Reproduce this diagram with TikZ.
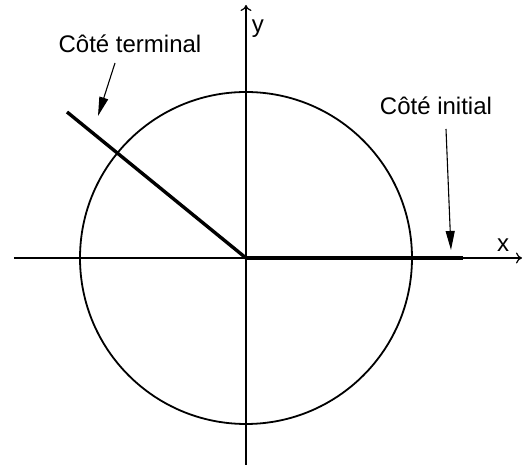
\documentclass[tikz,border=0pt]{standalone}
\usepackage{fontspec}
\setmainfont{Liberation Sans}
\usetikzlibrary{arrows.meta}

\begin{document}
\begin{tikzpicture}[
  x=1pt, y=1pt,
  every node/.style={inner sep=1pt, font=\fontsize{24}{28}\selectfont},
  axis/.style={draw, line width=1.2pt, -{To[length=6pt,width=11pt]}},
  side/.style={draw, line width=3.4pt},
  circ/.style={draw, line width=1.8pt},
  pointer/.style={draw, line width=1.1pt, -{Triangle[length=19pt,width=9pt]}}]

  \useasboundingbox (-246,-207) rectangle (282,258);

  % axes and circle
  \coordinate (o)  at (0,0);
  \coordinate (xl) at (-232,0);
  \coordinate (xr) at (276,0);
  \coordinate (yb) at (0,-207);
  \coordinate (yt) at (0,253);
  \draw[axis] (xl) -- (xr);
  \draw[axis] (yb) -- (yt);
  \draw[circ] (o) circle (166);

  % the two sides of the angle
  \coordinate (term) at (-179,146);
  \coordinate (init) at (217,0);
  \draw[side] (o) -- (term);
  \draw[side] (o) -- (init);

  % labels
  \node (xlab) at (257,13)  {x};
  \node (ylab) at (12,229)  {y};
  \node (tlab) at (-116,214) {Côté terminal};
  \node (ilab) at (190,152)  {Côté initial};

  % pointers
  \coordinate (tfrom) at (-131,195);
  \coordinate (tto)   at (-148,142);
  \coordinate (ifrom) at (200,129);
  \coordinate (ito)   at (205,8);
  \draw[pointer] (tfrom) -- (tto);
  \draw[pointer] (ifrom) -- (ito);
\end{tikzpicture}
\end{document}
